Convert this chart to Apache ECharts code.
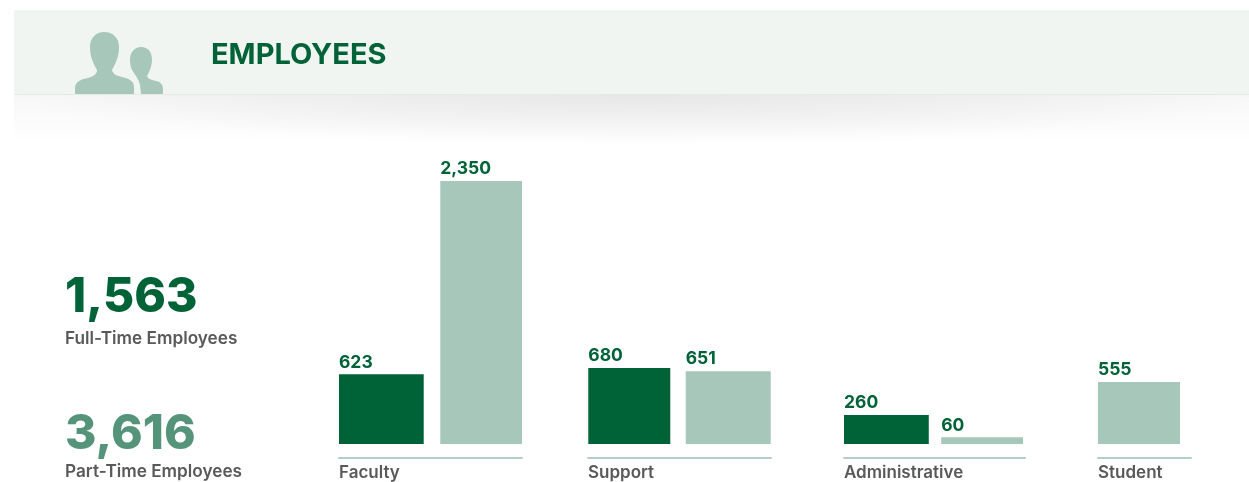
<!DOCTYPE html>
<html>
<head>
<meta charset="utf-8">
<style>html,body{margin:0;padding:0;background:#fff}#chart{width:1249px;height:482px}</style>
<script src="https://cdn.jsdelivr.net/npm/echarts@6/dist/echarts.min.js"></script>
</head>
<body>
<div id="chart"></div>
<script>
// Headcount by employee group
const heading = 'EMPLOYEES';
const groups = ['Faculty', 'Support', 'Administrative', 'Student'];
const fullTime = [623, 680, 260, null];
const partTime = [2350, 651, 60, 555];
const totals = ['1,563', '3,616'];
const totalLabels = ['Full-Time Employees', 'Part-Time Employees'];
const scaleMax = 2350;

const GREEN = '#006338', PALE = '#a7c7bb', MID = '#55947b', GREY = '#58595b';
const FONT = 'Inter, "Open Sans", sans-serif';

// Horizontal placement of each group: bar extents and the rule below them
const layout = [
  {left: 339, fullW: 85, gap: 16, partW: 82, ruleW: 183},
  {left: 588, fullW: 82, gap: 16, partW: 85, ruleW: 183},
  {left: 844, fullW: 85, gap: 12, partW: 82, ruleW: 181},
  {left: 1098, fullW: 0, gap: 0, partW: 82, ruleW: 93}
];

const BAR_TOP = 181, BAR_BOTTOM = 444, RULE_Y = 457;

const grid = [], xAxis = [], yAxis = [], series = [];

function valueLabel() {
  return {
    show: true, position: [0, -21], color: GREEN,
    fontFamily: FONT, fontWeight: 700, fontSize: 17.5,
    formatter: p => p.value.toLocaleString('en-US')
  };
}

groups.forEach((name, i) => {
  const g = layout[i];
  const w = g.fullW + g.gap + g.partW;
  const barIdx = grid.length;
  grid.push({left: g.left, width: w, top: BAR_TOP, height: BAR_BOTTOM - BAR_TOP});
  xAxis.push({type: 'category', gridIndex: barIdx, data: [name], show: false});
  yAxis.push({type: 'value', gridIndex: barIdx, min: 0, max: scaleMax, show: false});

  const gapPct = g.fullW ? (g.gap / g.partW * 100) + '%' : '0%';
  if (fullTime[i] !== null) {
    series.push({
      type: 'bar', name: 'Full-Time', xAxisIndex: barIdx, yAxisIndex: barIdx,
      data: [fullTime[i]], barWidth: g.fullW, barGap: gapPct,
      itemStyle: {color: GREEN}, label: valueLabel(), silent: true
    });
  }
  series.push({
    type: 'bar', name: 'Part-Time', xAxisIndex: barIdx, yAxisIndex: barIdx,
    data: [partTime[i]], barWidth: g.partW, barGap: gapPct,
    itemStyle: {color: PALE}, label: valueLabel(), silent: true
  });

  // Rule and left-aligned group name
  const ruleIdx = grid.length;
  grid.push({left: g.left, width: g.ruleW, top: RULE_Y, height: 1});
  xAxis.push({
    type: 'category', gridIndex: ruleIdx, data: [name, ''], boundaryGap: false,
    axisLine: {show: true, lineStyle: {color: '#b4d0c5', width: 2}},
    axisTick: {show: false},
    axisLabel: {show: true, interval: 0, align: 'left', margin: 6, color: GREY,
      fontFamily: FONT, fontWeight: 600, fontSize: 17}
  });
  yAxis.push({type: 'value', gridIndex: ruleIdx, show: false});
});

// Person silhouettes in the header band
echarts.graphic.registerShape('bigPerson', echarts.graphic.extendPath(
  'M75 94 L75 87 C76 81 82 79 88 78 C94 76 97 74 97 70 C93 63 90 56 90 47 C90 38 96 32 104 32 C113 32 119 38 119 47 C119 56 116 63 112 70 C113 74 117 76 122 77 C130 79 134 81 134 88 L134 94 Z'
));
echarts.graphic.registerShape('smallPerson', echarts.graphic.extendPath(
  'M141 94 L140 85 C139 80 136 76 134 73 C131 69 130 65 130 60 C130 52 135 47 141 47 C148 47 152 52 152 60 C152 65 150 71 147 76 C148 79 152 80 156 81 C161 82 163 85 163 89 L163 94 Z'
));

function titleText(text, left, top, color, weight, size) {
  return {text, left, top, padding: 0,
    textStyle: {color, fontFamily: FONT, fontWeight: weight, fontSize: size}};
}

const option = {
  animation: false,
  backgroundColor: '#ffffff',
  grid, xAxis, yAxis, series,
  title: [
    titleText(heading, 211, 41, GREEN, 700, 29),
    titleText(totals[0], 65, 274, GREEN, 800, 48),
    titleText(totalLabels[0], 65, 330, GREY, 600, 17.2),
    titleText(totals[1], 65, 411, MID, 800, 48),
    titleText(totalLabels[1], 65, 463, GREY, 600, 17.2)
  ],
  graphic: [
    // Soft shadow under the header band: a faint even wash plus a wide ellipse
    {type: 'rect', z: -5, shape: {x: 14, y: 95, width: 1235, height: 48}, style: {
      fill: {type: 'linear', x: 0, y: 0, x2: 0, y2: 1, colorStops: [
        {offset: 0, color: 'rgba(0,0,0,0.03)'}, {offset: 1, color: 'rgba(0,0,0,0)'}]}
    }},
    {type: 'circle', z: -4, x: 640, y: 95, scaleX: 625, scaleY: 50, shape: {cx: 0, cy: 0, r: 1}, style: {
      fill: {type: 'radial', x: 0.5, y: 0.5, r: 0.5, colorStops: [
        {offset: 0, color: 'rgba(0,0,0,0.065)'}, {offset: 0.6, color: 'rgba(0,0,0,0.03)'}, {offset: 1, color: 'rgba(0,0,0,0)'}]}
    }},
    {type: 'rect', z: -3, shape: {x: 14, y: 10, width: 1235, height: 84}, style: {fill: '#f0f5f2'}},
    {type: 'rect', z: -3, shape: {x: 14, y: 94, width: 1235, height: 1}, style: {fill: '#e2ebe6'}},
    {type: 'bigPerson', z: -2, style: {fill: PALE}},
    {type: 'smallPerson', z: -2, style: {fill: PALE}}
  ]
};

echarts.init(document.getElementById('chart'), null, {renderer: 'canvas'}).setOption(option);
</script>
</body>
</html>
